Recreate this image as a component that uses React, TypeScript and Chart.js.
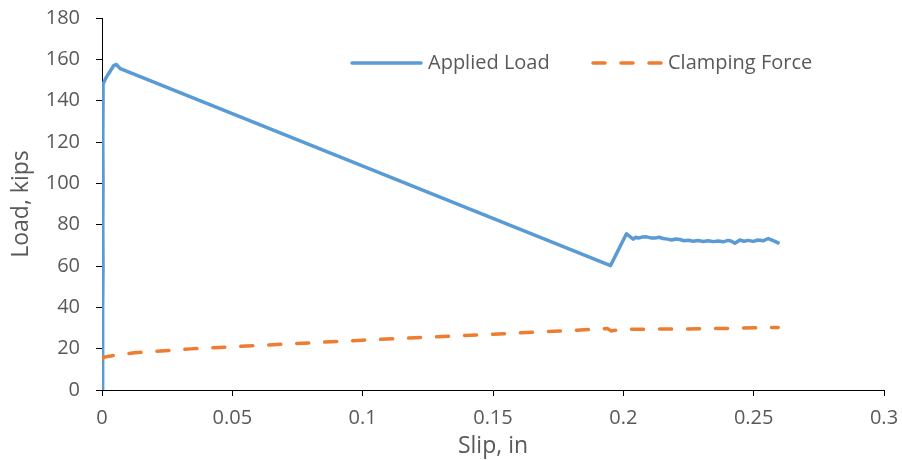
import React, { useEffect, useRef } from "react";
import { Chart, registerables } from "chart.js";

Chart.register(...registerables);

// Applied Load series (slip in inches, load in kips)
const appliedSlip = [
  0, 0.0003, 0.0002, 0.0004, 0.0003, 0.0004, 0.0003, 0.0004, 0.0004,
  0.0015, 0.003, 0.0045, 0.0055, 0.007,
  0.1951,
  0.2012, 0.2038, 0.2048, 0.2057, 0.2073, 0.2089, 0.2105, 0.2121, 0.2137, 0.2153,
  0.2169, 0.2185, 0.2201, 0.2217, 0.2233, 0.2249, 0.2268, 0.2287, 0.2306, 0.2326,
  0.2345, 0.2364, 0.2383, 0.2402, 0.2415, 0.2428, 0.2447, 0.2463, 0.2479, 0.2498,
  0.2517, 0.2536, 0.2556, 0.2575, 0.2594,
];
const appliedLoad = [
  0, 20, 40, 60, 80, 100, 120, 140, 148,
  151, 154, 157, 157.5, 155.5,
  60.2,
  75.6, 73.0, 73.9, 73.5, 74.0, 74.1, 73.6, 73.5, 73.9, 73.3,
  73.0, 72.6, 73.1, 72.8, 72.2, 72.5, 72.0, 72.3, 71.9, 72.2,
  71.8, 72.1, 71.7, 72.4, 72.0, 71.0, 72.6, 72.0, 72.4, 71.9,
  72.6, 72.2, 73.3, 72.3, 71.2,
];

// Clamping Force series
const clampSlip = [
  0, 0.001, 0.004, 0.0125, 0.034, 0.1, 0.15, 0.194, 0.1953, 0.2005,
  0.22, 0.24, 0.2594,
];
const clampForce = [
  15, 16, 16.6, 18.0, 19.9, 24.1, 27.0, 29.7, 28.6, 29.4,
  29.5, 29.8, 30.3,
];

const seriesLabels = ["Applied Load", "Clamping Force"];
const seriesColors = ["#5B9BD5", "#ED7D31"];

const xMin = 0;
const xMax = 0.3;
const xStep = 0.05;
const yMin = 0;
const yMax = 180;
const yStep = 20;

const xTitle = "Slip, in";
const yTitle = "Load, kips";

const FONT = "'Open Sans', 'Noto Sans', sans-serif";
const TEXT = "#595959";

const legendPlugin = {
  id: "insetLegend",
  afterDatasetsDraw(chart: any) {
    const ctx = chart.ctx as CanvasRenderingContext2D;
    const y = 63;
    const items = [
      { x0: 352, x1: 421, tx: 428, dash: [] as number[] },
      { x0: 593, x1: 661, tx: 668, dash: [12, 16] },
    ];
    ctx.save();
    items.forEach((it, i) => {
      ctx.beginPath();
      ctx.strokeStyle = seriesColors[i];
      ctx.lineWidth = 3.5;
      ctx.lineCap = "round";
      ctx.setLineDash(it.dash);
      ctx.moveTo(it.x0, y);
      ctx.lineTo(it.x1, y);
      ctx.stroke();
      ctx.setLineDash([]);
      ctx.fillStyle = TEXT;
      ctx.font = `20px ${FONT}`;
      ctx.textAlign = "left";
      ctx.textBaseline = "middle";
      ctx.fillText(seriesLabels[i], it.tx, y);
    });
    ctx.restore();
  },
};

export default function App() {
  const ref = useRef<HTMLCanvasElement | null>(null);

  useEffect(() => {
    if (!ref.current) return;
    const applied = appliedSlip.map((x, i) => ({ x, y: appliedLoad[i] }));
    const clamp = clampSlip.map((x, i) => ({ x, y: clampForce[i] }));
    const chart = new Chart(ref.current, {
      type: "scatter",
      data: {
        datasets: [
          {
            label: seriesLabels[0],
            data: applied,
            showLine: true,
            borderColor: seriesColors[0],
            backgroundColor: seriesColors[0],
            borderWidth: 3.5,
            pointRadius: 0,
            tension: 0,
            borderJoinStyle: "round",
            borderCapStyle: "round",
            order: 1,
          },
          {
            label: seriesLabels[1],
            data: clamp,
            showLine: true,
            borderColor: seriesColors[1],
            backgroundColor: seriesColors[1],
            borderWidth: 3.5,
            borderDash: [12, 16],
            pointRadius: 0,
            tension: 0,
            borderJoinStyle: "round",
            borderCapStyle: "round",
            order: 0,
          },
        ],
      },
      options: {
        animation: false,
        responsive: false,
        maintainAspectRatio: false,
        layout: { padding: { left: 0, right: 18, top: 18, bottom: 0 } },
        plugins: {
          legend: { display: false },
          tooltip: { enabled: false },
        },
        scales: {
          x: {
            type: "linear",
            min: xMin,
            max: xMax,
            afterFit: (s: any) => {
              s.height = 70;
              s.paddingLeft = 0;
              s.paddingRight = 0;
            },
            border: { display: true, color: "#000", width: 1 },
            grid: {
              display: true,
              drawOnChartArea: false,
              drawTicks: true,
              tickLength: 6,
              color: "#000",
            },
            ticks: {
              stepSize: xStep,
              color: TEXT,
              padding: 10,
              font: { family: FONT, size: 20 },
              maxRotation: 0,
              callback: (v: any) => String(+Number(v).toFixed(2)),
            },
            title: {
              display: true,
              text: xTitle,
              color: TEXT,
              font: { family: FONT, size: 23 },
              padding: { top: 0, bottom: 0 },
            },
          },
          y: {
            type: "linear",
            min: yMin,
            max: yMax,
            afterFit: (s: any) => {
              s.width = 102;
              s.paddingTop = 0;
              s.paddingBottom = 0;
            },
            border: { display: true, color: "#000", width: 1 },
            grid: {
              display: true,
              drawOnChartArea: false,
              drawTicks: true,
              tickLength: 6,
              color: "#000",
            },
            ticks: {
              stepSize: yStep,
              color: TEXT,
              padding: 16,
              font: { family: FONT, size: 20 },
            },
            title: {
              display: true,
              text: yTitle,
              color: TEXT,
              font: { family: FONT, size: 23 },
              padding: { top: 8, bottom: 0 },
            },
          },
        },
      },
      plugins: [legendPlugin],
    });
    return () => chart.destroy();
  }, []);

  return (
    <div style={{ position: "fixed", left: 0, top: 0, width: 902, height: 460, background: "#fff" }}>
      <canvas ref={ref} width={902} height={460} style={{ display: "block" }} />
    </div>
  );
}
